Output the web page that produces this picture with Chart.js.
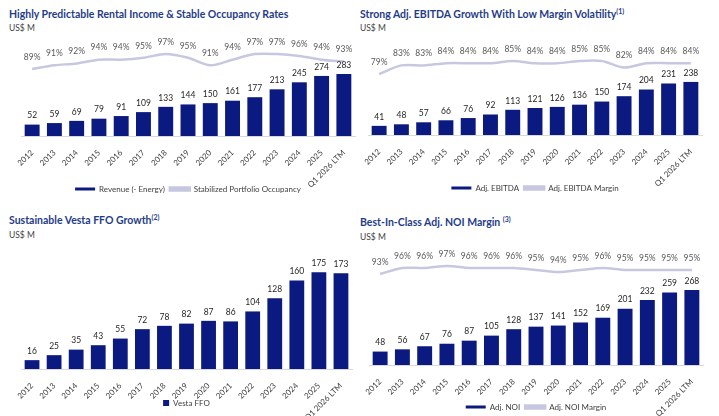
<!DOCTYPE html>
<html lang="en">
<head>
  <meta charset="utf-8" />
  <title>Vesta key metrics</title>
  <style>
body {
  margin: 0;
  width: 719px;
  height: 416px;
  background: #fff;
  font-family: Lato, sans-serif;
  position: relative;
  overflow: hidden;
}
.title {
  position: absolute;
  font-weight: bold;
  font-size: 10.5px;
  line-height: 14px;
  color: #1f3c88;
  white-space: nowrap;
}
.title sup { font-size: 7px; line-height: 0; vertical-align: 4px; }
.unit {
  position: absolute;
  font-size: 8.5px;
  color: #404040;
}
.box { position: absolute; }
  </style>
</head>
<body>
  <div class="title" style="left:9px;top:7px">Highly Predictable Rental Income &amp; Stable Occupancy Rates</div>
  <div class="unit" style="left:9px;top:23px">US$ M</div>
  <div class="title" style="left:360px;top:7px">Strong Adj. EBITDA Growth With Low Margin Volatility<sup>(1)</sup></div>
  <div class="unit" style="left:360px;top:23px">US$ M</div>
  <div class="title" style="left:9px;top:213px">Sustainable Vesta FFO Growth<sup>(2)</sup></div>
  <div class="unit" style="left:9px;top:230px">US$ M</div>
  <div class="title" style="left:360px;top:215px">Best-In-Class Adj. NOI Margin <sup>(3)</sup></div>
  <div class="unit" style="left:360px;top:232px">US$ M</div>

  <div class="box" style="left:0;top:30px;width:360px;height:180px"><canvas id="c1"></canvas></div>
  <div class="box" style="left:360px;top:30px;width:359px;height:180px"><canvas id="c2"></canvas></div>
  <div class="box" style="left:0;top:240px;width:360px;height:200px"><canvas id="c3"></canvas></div>
  <div class="box" style="left:360px;top:240px;width:359px;height:200px"><canvas id="c4"></canvas></div>

  <script src="https://cdn.jsdelivr.net/npm/chart.js"></script>
  <script>
// values
const years = ['2012', '2013', '2014', '2015', '2016', '2017', '2018', '2019', '2020',
  '2021', '2022', '2023', '2024', '2025', 'Q1 2026 LTM'];
const revenue = [52, 59, 69, 79, 91, 109, 133, 144, 150, 161, 177, 213, 245, 274, 283];
const occupancy = [89, 91, 92, 94, 94, 95, 97, 95, 91, 94, 97, 97, 96, 94, 93];
const ebitda = [41, 48, 57, 66, 76, 92, 113, 121, 126, 136, 150, 174, 204, 231, 238];
const ebitdaMargin = [79, 83, 83, 84, 84, 84, 85, 84, 84, 85, 85, 82, 84, 84, 84];
const ffo = [16, 25, 35, 43, 55, 72, 78, 82, 87, 86, 104, 128, 160, 175, 173];
const noi = [48, 56, 67, 76, 87, 105, 128, 137, 141, 152, 169, 201, 232, 259, 268];
const noiMargin = [93, 96, 96, 97, 96, 96, 96, 95, 94, 95, 96, 95, 95, 95, 95];

const NAVY = '#0b1a80';
const LAVENDER = '#c6c8e2';

// numbers over bars and points (no datalabels plugin here)
const valueLabels = {
  id: 'valueLabels',
  afterDatasetsDraw(chart) {
    const ctx = chart.ctx;
    chart.data.datasets.forEach((ds, i) => {
      const meta = chart.getDatasetMeta(i);
      const isLine = ds.type === 'line';
      ctx.save();
      ctx.textAlign = 'center';
      ctx.textBaseline = 'middle';
      ctx.font = '8.5px Lato';
      ctx.fillStyle = isLine ? '#595959' : '#1f1f1f';
      meta.data.forEach((el, j) => {
        const txt = isLine ? ds.data[j] + '%' : String(ds.data[j]);
        ctx.fillText(txt, el.x, el.y - (isLine ? 12 : 9));
      });
      ctx.restore();
    });
  }
};

// the x labels are clipped to the axis box, so the axis is kept tall
// and the legend is pulled back up over the label area afterwards
const legendMove = {
  id: 'legendMove',
  afterLayout(chart) {
    const y = chart.options.plugins.legendMove.y;
    const lg = chart.legend;
    if (!lg || y == null) return;
    lg.top = y - 9;  // padding 5 + half the item height
    lg.bottom = lg.top + lg.height;
  }
};

function makeChart(id, o) {
  const datasets = [{
    type: 'bar',
    label: o.barLabel,
    data: o.bars,
    yAxisID: 'y',
    backgroundColor: NAVY,
    borderWidth: 0,
    categoryPercentage: 1,
    barPercentage: 0.67,
    order: 2
  }];
  if (o.line) {
    datasets.push({
      type: 'line',
      label: o.lineLabel,
      data: o.line,
      yAxisID: 'y1',
      borderColor: LAVENDER,
      backgroundColor: LAVENDER,
      borderWidth: 2.5,
      pointRadius: 0,
      tension: 0.3,
      order: 1
    });
  }
  return new Chart(document.getElementById(id), {
    data: { labels: years, datasets: datasets },
    plugins: [valueLabels, legendMove],
    options: {
      responsive: true,
      maintainAspectRatio: false,
      animation: false,
      layout: { padding: o.pad },
      plugins: {
        tooltip: { enabled: false },
        legendMove: { y: o.legendY },
        legend: {
          position: 'bottom',
          labels: {
            font: { family: 'Lato', size: 8 },
            color: '#404040',
            boxWidth: o.line ? 20 : 6,
            boxHeight: o.line ? 3 : 6,
            padding: 5,
            sort: (a, b) => a.datasetIndex - b.datasetIndex
          }
        }
      },
      scales: {
        x: {
          grid: { display: false },
          border: { display: true, color: '#d9d9d9' },
          ticks: {
            font: { family: 'Lato', size: 8 },
            color: '#404040',
            minRotation: 45,
            maxRotation: 45,
            padding: 4
          },
          afterFit: function (scale) { scale.height = o.xHeight; }
        },
        y: { display: false, min: 0, max: o.barMax },
        y1: { display: false, min: o.lineMin || 0, max: o.lineMax || 100 }
      }
    }
  });
}

makeChart('c1', {
  bars: revenue, barLabel: 'Revenue (- Energy)',
  line: occupancy, lineLabel: 'Stabilized Portfolio Occupancy',
  barMax: 438, lineMin: 53.3, lineMax: 104.5,
  pad: { left: 21, right: 5, top: 10, bottom: 0 }, xHeight: 51, legendY: 159
});
makeChart('c2', {
  bars: ebitda, barLabel: 'Adj. EBITDA',
  line: ebitdaMargin, lineLabel: 'Adj. EBITDA Margin',
  barMax: 426, lineMin: 50.9, lineMax: 94.7,
  pad: { left: 8, right: 17, top: 10, bottom: 0 }, xHeight: 52, legendY: 158
});
makeChart('c3', {
  bars: ffo, barLabel: 'Vesta FFO',
  barMax: 215,
  pad: { left: 21, right: 8, top: 10, bottom: 0 }, xHeight: 48, legendY: 163
});
makeChart('c4', {
  bars: noi, barLabel: 'Adj. NOI',
  line: noiMargin, lineLabel: 'Adj. NOI Margin',
  barMax: 411, lineMin: 47.5, lineMax: 105,
  pad: { left: 9, right: 16, top: 10, bottom: 0 }, xHeight: 52, legendY: 167
});
  </script>
</body>
</html>
